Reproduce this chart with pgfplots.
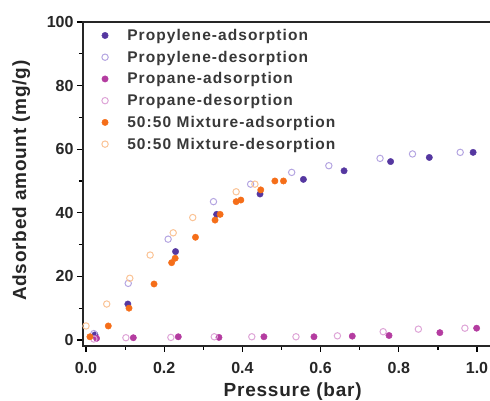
\documentclass[border=0pt]{standalone}
\usepackage{pgfplots}
\pgfplotsset{compat=1.18}
\usepackage{fontspec}
\setmainfont{Liberation Sans}
\definecolor{pya}{RGB}{85,55,160}
\definecolor{pyd}{RGB}{180,165,225}
\definecolor{paa}{RGB}{180,60,160}
\definecolor{pad}{RGB}{222,165,215}
\definecolor{mxa}{RGB}{245,110,25}
\definecolor{mxd}{RGB}{250,195,150}
\begin{document}
\begin{tikzpicture}
\useasboundingbox (0,0) rectangle (490pt,401pt);
\begin{axis}[
  at={(83pt,55pt)}, anchor=south west,
  scale only axis, width=412pt, height=324pt,
  xmin=-0.0077, xmax=1.046, ymin=-1.9, ymax=100,
  tick pos=left, tick align=outside,
  xtick={0,0.2,...,1.0}, minor xtick={0.1,0.3,...,0.9},
  ytick={0,20,...,100}, minor ytick={10,30,...,90},
  major tick length=6pt, minor tick length=4pt,
  every tick/.style={black, line width=1.2pt},
  axis line style={line width=1.3pt, black!85},
  /pgf/number format/assume math mode=true,
  xticklabel style={/pgf/number format/fixed, /pgf/number format/fixed zerofill, /pgf/number format/precision=1, yshift=-7pt},
  ticklabel style={font=\fontsize{16}{19}\selectfont\bfseries, text=black!85},
  xlabel={Pressure (bar)},
  ylabel={Adsorbed amount (mg/g)},
  label style={font=\fontsize{19}{22}\selectfont\bfseries\addfontfeature{LetterSpace=4}, text=black!85},
  xlabel style={at={(axis description cs:0.509,-0.140)}, anchor=center},
  ylabel style={at={(axis description cs:-0.15,0.51)}, anchor=center},
  legend cell align=left,
  legend style={at={(axis description cs:0.038,0.991)}, anchor=north west, draw=none, fill=none,
    font=\fontsize{15.5}{17}\selectfont\bfseries\addfontfeature{LetterSpace=7}, text=black!78, row sep=5pt, column sep=17pt},
  mark size=3.2pt,
]
\addplot[only marks, mark=*, color=pya] coordinates {
(0.023,1.6) (0.107,11.3) (0.229,27.8) (0.334,39.5) (0.445,45.9) (0.556,50.5) (0.66,53.2) (0.779,56.1) (0.878,57.4) (0.99,59)};
\addlegendentry{Propylene-adsorption}
\addplot[only marks, mark=o, color=pyd, line width=1pt] coordinates {
(0.02,2) (0.108,17.8) (0.21,31.7) (0.326,43.5) (0.421,49) (0.526,52.7) (0.621,54.8) (0.752,57.1) (0.835,58.5) (0.957,59)};
\addlegendentry{Propylene-desorption}
\addplot[only marks, mark=*, color=paa] coordinates {
(0.027,0.5) (0.121,0.7) (0.236,1) (0.34,0.8) (0.455,1) (0.583,1) (0.681,1.2) (0.775,1.4) (0.905,2.3) (0.999,3.7)};
\addlegendentry{Propane-adsorption}
\addplot[only marks, mark=o, color=pad, line width=1pt] coordinates {
(0.02,0.3) (0.102,0.7) (0.217,0.8) (0.328,1) (0.424,1) (0.537,1) (0.643,1.3) (0.76,2.6) (0.85,3.4) (0.969,3.7)};
\addlegendentry{Propane-desorption}
\addplot[only marks, mark=*, color=mxa] coordinates {
(0.01,1) (0.057,4.4) (0.11,10) (0.174,17.6) (0.219,24.3) (0.228,25.7) (0.28,32.3) (0.33,37.7) (0.343,39.5) (0.384,43.5) (0.396,44) (0.447,47.2) (0.483,50) (0.505,50)};
\addlegendentry{50:50 Mixture-adsorption}
\addplot[only marks, mark=o, color=mxd, line width=1pt] coordinates {
(0,4.4) (0.053,11.3) (0.112,19.4) (0.164,26.7) (0.223,33.7) (0.273,38.5) (0.384,46.6) (0.432,49)};
\addlegendentry{50:50 Mixture-desorption}
\end{axis}
\end{tikzpicture}
\end{document}
